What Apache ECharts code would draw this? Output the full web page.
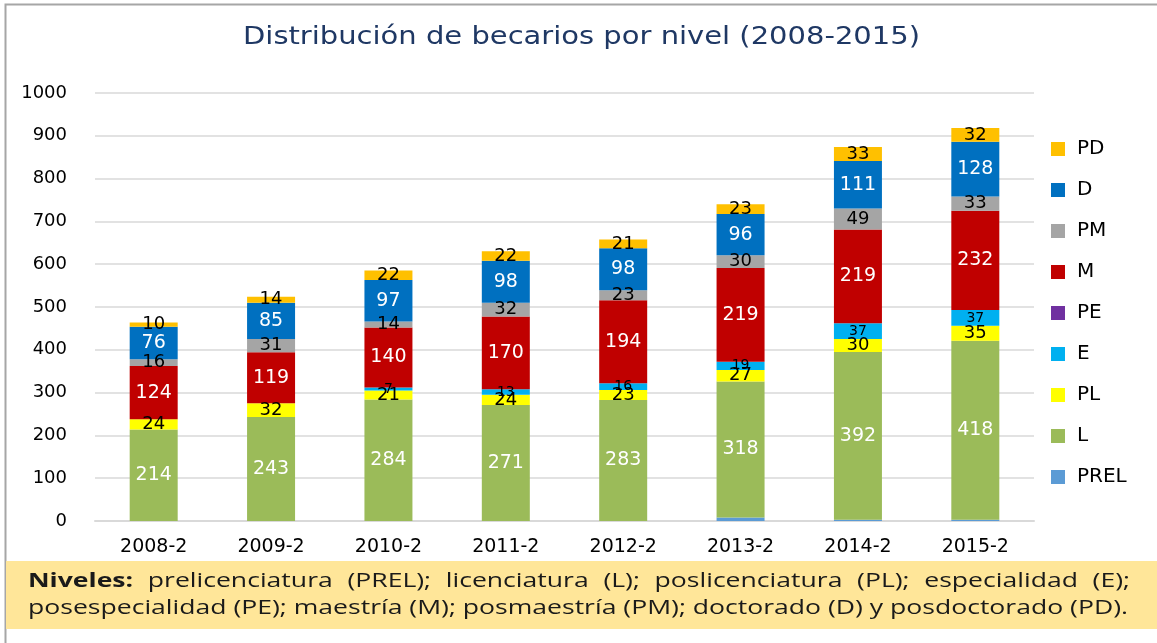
<!DOCTYPE html>
<html lang="es">
<head>
<meta charset="UTF-8">
<title>Distribución de becarios por nivel</title>
<script src="https://cdn.jsdelivr.net/npm/echarts@6/dist/echarts.min.js"></script>
<style>
  html, body { margin: 0; padding: 0; background: #fff; }
  #chart { width: 1157px; height: 643px; }
</style>
</head>
<body>
<div id="chart"></div>
<script>
// periodos
var years = ['2008-2', '2009-2', '2010-2', '2011-2', '2012-2', '2013-2', '2014-2', '2015-2'];

// becarios por nivel
var PREL = [0, 0, 0, 0, 0, 8, 3, 3];
var L    = [214, 243, 284, 271, 283, 318, 392, 418];
var PL   = [24, 32, 21, 24, 23, 27, 30, 35];
var E    = [0, 0, 7, 13, 16, 19, 37, 37];
var PE   = [0, 0, 0, 0, 0, 0, 0, 0];
var M    = [124, 119, 140, 170, 194, 219, 219, 232];
var PM   = [16, 31, 14, 32, 23, 30, 49, 33];
var D    = [76, 85, 97, 98, 98, 96, 111, 128];
var PD   = [10, 14, 22, 22, 21, 23, 33, 32];

var yTicks = [0, 100, 200, 300, 400, 500, 600, 700, 800, 900, 1000];

var titleText = 'Distribución de becarios por nivel (2008-2015)';
var note1 = ['prelicenciatura', '(PREL);', 'licenciatura', '(L);', 'poslicenciatura', '(PL);', 'especialidad', '(E);'];
var note2 = 'posespecialidad (PE); maestría (M); posmaestría (PM); doctorado (D) y posdoctorado (PD).';

var FONT = 'DejaVu Sans';

function serie(name, data, color, labelColor, labelSize, showLabel) {
  return {
    name: name,
    type: 'bar',
    stack: 'total',
    barWidth: 48,
    data: data,
    itemStyle: { color: color },
    label: {
      show: showLabel,
      position: 'inside',
      color: labelColor,
      fontFamily: FONT,
      fontSize: labelSize,
      formatter: function (p) { return p.value ? p.value : ''; }
    }
  };
}

// medir texto (titulo y nota al pie estirados como en el original)
var cv = document.createElement('canvas').getContext('2d');
function measure(txt, font) { cv.font = font; return cv.measureText(txt).width; }

var titleFont = '24px "DejaVu Sans"';
var tsx = 677 / measure(titleText, titleFont);

var noteFont = '20px "Open Sans"';
var noteBold = 'bold 20px "Open Sans"';
var xStart = 28, xEnd = 1130;
var sx = 1100 / measure(note2, noteFont);

var graphics = [
  { type: 'rect', shape: { x: 5.5, y: 4.5, width: 1160, height: 660 }, style: { fill: null, stroke: '#A6A6A6', lineWidth: 2 }, silent: true },
  { type: 'rect', shape: { x: 6, y: 561, width: 1151, height: 68 }, style: { fill: '#FFE699' }, silent: true },
  {
    type: 'text', x: 243, y: 38, scaleX: tsx, silent: true,
    style: { text: titleText, font: titleFont, fill: '#1F3864', verticalAlign: 'middle' }
  }
];

// linea 1 justificada
var words = [{ t: 'Niveles:', f: noteBold }].concat(note1.map(function (w) { return { t: w, f: noteFont }; }));
var total = 0;
words.forEach(function (w) { w.w = measure(w.t, w.f) * sx; total += w.w; });
var gap = (xEnd - xStart - total) / (words.length - 1);
var cx = xStart;
words.forEach(function (w) {
  graphics.push({
    type: 'text', x: cx, y: 581, scaleX: sx, silent: true,
    style: { text: w.t, font: w.f, fill: '#1a1a1a', verticalAlign: 'middle' }
  });
  cx += w.w + gap;
});
graphics.push({
  type: 'text', x: xStart, y: 608, scaleX: sx, silent: true,
  style: { text: note2, font: noteFont, fill: '#1a1a1a', verticalAlign: 'middle' }
});

var chart = echarts.init(document.getElementById('chart'));
chart.setOption({
  animation: false,
  legend: {
    orient: 'vertical',
    left: 1046,
    top: 134,
    itemWidth: 14,
    itemHeight: 14,
    itemGap: 21,
    icon: 'rect',
    textStyle: { fontFamily: FONT, fontSize: 20, color: '#000', lineHeight: 20, padding: [0, 0, 0, 7] },
    data: ['PD', 'D', 'PM', 'M', 'PE', 'E', 'PL', 'L', 'PREL']
  },
  grid: { left: 95, right: 123, top: 93, bottom: 122 },
  xAxis: {
    type: 'category',
    data: years,
    axisLine: { show: true, lineStyle: { color: '#D9D9D9', width: 2 } },
    axisTick: { show: false, interval: 0 },
    axisLabel: { interval: 0, color: '#000', fontFamily: FONT, fontSize: 19, margin: 17 }
  },
  yAxis: {
    type: 'value',
    min: yTicks[0],
    max: yTicks[yTicks.length - 1],
    interval: 100,
    splitLine: { lineStyle: { color: '#D9D9D9', width: 1.5 } },
    axisLabel: { color: '#000', fontFamily: FONT, fontSize: 18, margin: 28, formatter: function (v) { return String(v); } }
  },
  series: [
    serie('PREL', PREL, '#5B9BD5', '#000', 14, false),
    serie('L', L, '#9BBB59', '#fff', 19, true),
    serie('PL', PL, '#FFFF00', '#000', 18, true),
    serie('E', E, '#00B0F0', '#000', 14, true),
    serie('PE', PE, '#7030A0', '#000', 14, false),
    serie('M', M, '#C00000', '#fff', 19, true),
    serie('PM', PM, '#A5A5A5', '#000', 18, true),
    serie('D', D, '#0070C0', '#fff', 19, true),
    serie('PD', PD, '#FFC000', '#000', 18, true)
  ],
  graphic: graphics
});
</script>
</body>
</html>
